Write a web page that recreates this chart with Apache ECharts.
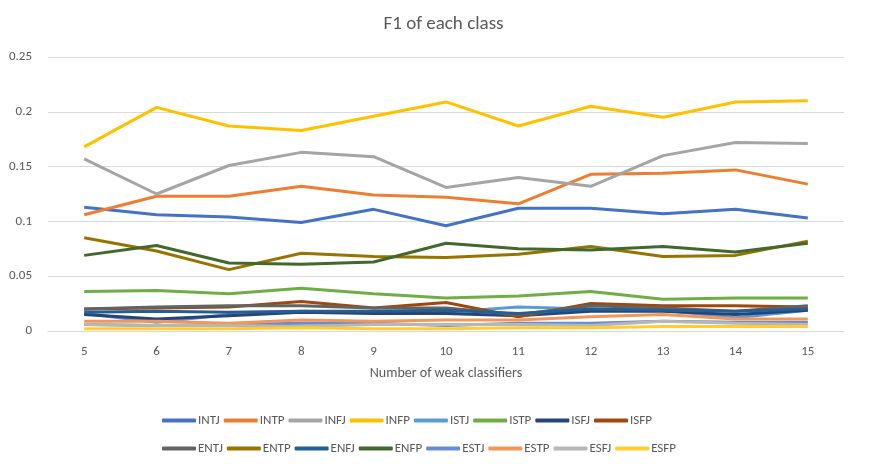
<!DOCTYPE html>
<html>
<head>
<meta charset="utf-8">
<script src="https://cdn.jsdelivr.net/npm/echarts@6/dist/echarts.min.js"></script>
<style>html,body{margin:0;background:#fff}#chart{width:887px;height:467px}</style>
</head>
<body>
<div id="chart"></div>
<script>
// x axis
const categories = ['5', '6', '7', '8', '9', '10', '11', '12', '13', '14', '15'];

// F1 per class
const names = ['INTJ', 'INTP', 'INFJ', 'INFP', 'ISTJ', 'ISTP', 'ISFJ', 'ISFP',
               'ENTJ', 'ENTP', 'ENFJ', 'ENFP', 'ESTJ', 'ESTP', 'ESFJ', 'ESFP'];
const colors = ['#4472c4', '#ed7d31', '#a5a5a5', '#ffc000', '#5b9bd5', '#70ad47', '#264478', '#9e480e',
                '#636363', '#997300', '#255e91', '#43682b', '#698ed0', '#f1975a', '#b7b7b7', '#ffcd33'];
const INTJ = [0.113, 0.106, 0.104, 0.099, 0.111, 0.096, 0.112, 0.112, 0.107, 0.111, 0.103];
const INTP = [0.106, 0.123, 0.123, 0.132, 0.124, 0.122, 0.116, 0.143, 0.144, 0.147, 0.134];
const INFJ = [0.157, 0.125, 0.151, 0.163, 0.159, 0.131, 0.140, 0.132, 0.160, 0.172, 0.171];
const INFP = [0.168, 0.204, 0.187, 0.183, 0.196, 0.209, 0.187, 0.205, 0.195, 0.209, 0.210];
const ISTJ = [0.016, 0.008, 0.015, 0.018, 0.017, 0.017, 0.022, 0.020, 0.019, 0.012, 0.019];
const ISTP = [0.036, 0.037, 0.034, 0.039, 0.034, 0.030, 0.032, 0.036, 0.029, 0.030, 0.030];
const ISFJ = [0.015, 0.011, 0.014, 0.017, 0.016, 0.016, 0.014, 0.018, 0.018, 0.015, 0.019];
const ISFP = [0.020, 0.021, 0.022, 0.027, 0.021, 0.026, 0.013, 0.025, 0.023, 0.023, 0.022];
const ENTJ = [0.020, 0.022, 0.023, 0.023, 0.021, 0.021, 0.015, 0.023, 0.021, 0.018, 0.023];
const ENTP = [0.085, 0.073, 0.056, 0.071, 0.068, 0.067, 0.070, 0.077, 0.068, 0.069, 0.082];
const ENFJ = [0.017, 0.018, 0.017, 0.018, 0.018, 0.019, 0.016, 0.020, 0.019, 0.018, 0.020];
const ENFP = [0.069, 0.078, 0.062, 0.061, 0.063, 0.080, 0.075, 0.074, 0.077, 0.072, 0.080];
const ESTJ = [0.006, 0.005, 0.006, 0.007, 0.007, 0.005, 0.007, 0.007, 0.009, 0.008, 0.008];
const ESTP = [0.009, 0.009, 0.007, 0.010, 0.009, 0.010, 0.010, 0.013, 0.015, 0.011, 0.011];
const ESFJ = [0.006, 0.005, 0.005, 0.004, 0.006, 0.006, 0.006, 0.005, 0.009, 0.007, 0.006];
const ESFP = [0.002, 0.002, 0.002, 0.003, 0.002, 0.002, 0.003, 0.003, 0.004, 0.004, 0.004];
const values = [INTJ, INTP, INFJ, INFP, ISTJ, ISTP, ISFJ, ISFP,
                ENTJ, ENTP, ENFJ, ENFP, ESTJ, ESTP, ESFJ, ESFP];

const chart = echarts.init(document.getElementById('chart'));
const font = 'Calibri, Carlito, "Liberation Sans", sans-serif';

// two legend rows of 8, like the original
function legendRow(data, top) {
    return {
        data: data,
        top: top,
        left: 157,
        itemWidth: 34,
        itemHeight: 4,
        itemGap: 4,
        icon: 'roundRect',
        textStyle: { fontSize: 13, color: '#595959', fontFamily: font, width: 34, padding: [0, 0, 0, -3] }
    };
}

chart.setOption({
    color: colors,
    title: {
        text: 'F1 of each class',
        left: 'center',
        top: 10,
        textStyle: { fontSize: 19, fontWeight: 'normal', color: '#595959', fontFamily: font }
    },
    legend: [legendRow(names.slice(0, 8), 409), legendRow(names.slice(8), 437)],
    grid: { left: 48, right: 43, top: 57, bottom: 136 },
    xAxis: {
        type: 'category',
        data: categories,
        boundaryGap: true,
        name: 'Number of weak classifiers',
        nameLocation: 'middle',
        nameGap: 35,
        nameTextStyle: { fontSize: 14, color: '#595959', fontFamily: font },
        axisLine: { lineStyle: { color: '#d9d9d9' } },
        axisTick: { show: false },
        axisLabel: { fontSize: 13, color: '#595959', fontFamily: font, margin: 14 }
    },
    yAxis: {
        type: 'value',
        min: 0,
        max: 0.25,
        interval: 0.05,
        axisLine: { show: false },
        axisTick: { show: false },
        splitLine: { lineStyle: { color: '#d9d9d9' } },
        axisLabel: { fontSize: 13, color: '#595959', fontFamily: font, margin: 16 }
    },
    series: names.map((n, i) => ({
        name: n,
        type: 'line',
        data: values[i],
        symbol: 'none',
        lineStyle: { width: 3 }
    }))
});

window.addEventListener('resize', function() {
    chart.resize();
});
</script>
</body>
</html>
